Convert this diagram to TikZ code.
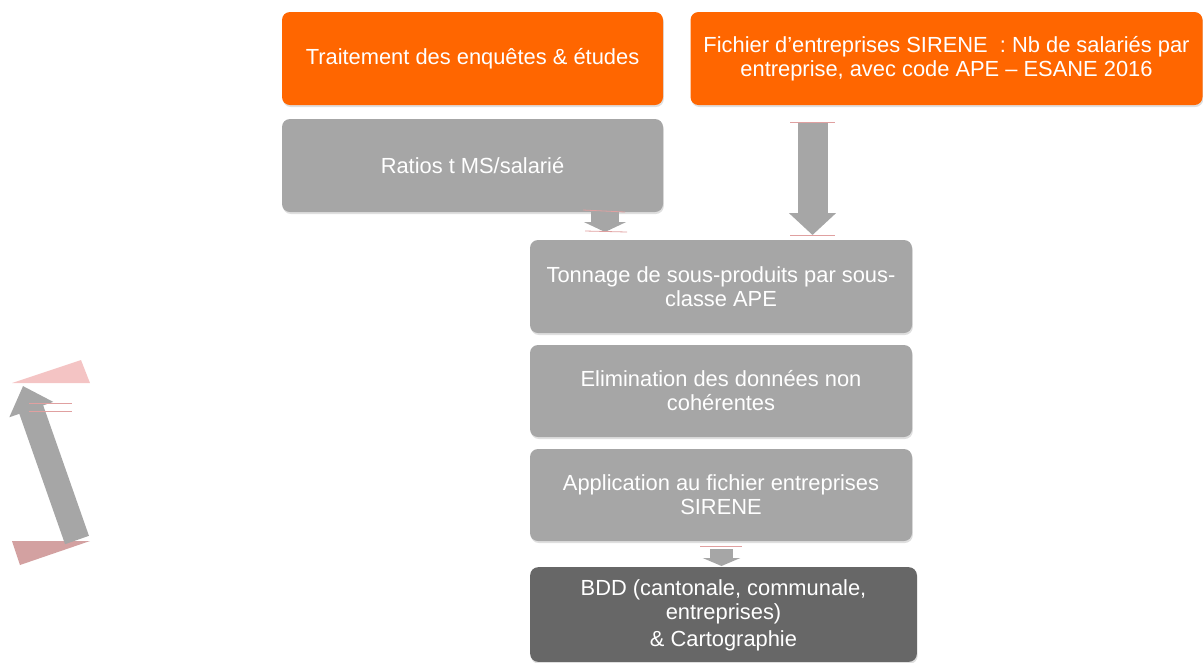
\documentclass[tikz,border=0pt]{standalone}
\usepackage{fontspec}
\setmainfont{Liberation Sans}
\usepackage{xcolor}
\usetikzlibrary{arrows.meta,shadows}
\definecolor{orangebox}{HTML}{FF6600}
\definecolor{greybox}{HTML}{A6A6A6}
\definecolor{darkbox}{HTML}{676767}
\definecolor{pinkA}{HTML}{F4C4C4}
\definecolor{pinkB}{HTML}{D3A1A1}
\definecolor{redline}{HTML}{E0A0A0}

\begin{document}
\begin{tikzpicture}[
  x=0.75pt, y=-0.75pt,
  font=\fontsize{16.4}{18}\selectfont,
  box/.style={draw=none, rounded corners=6pt, align=center, fill=#1, text=white,
    minimum width=285.75pt, minimum height=69.75pt, inner sep=2pt,
    drop shadow={shadow xshift=0.6pt, shadow yshift=-1.5pt, opacity=0.25}},
  box/.default=greybox,
  blockarrow/.style n args={3}{draw=greybox, line width=#1,
    -{Triangle[length=#2, width=#3]}},
  mark line/.style={draw=redline, line width=0.6pt}]
\useasboundingbox (0,0) rectangle (1203,662);

\node[box=orangebox] (trait) at (472.5,58.5) {Traitement des enquêtes \& études};
\node[box=orangebox, minimum width=384pt] (sirene) at (946.5,58.5)
  {Fichier d’entreprises SIRENE~ : Nb de salariés par\\entreprise, avec code APE – ESANE 2016};
\node[box] (ratios) at (472.5,165.5) {Ratios t MS/salarié};
\node[box, minimum width=286.5pt] (tonnage) at (721,286.5) {Tonnage de sous-produits par sous-\\classe APE};
\node[box, minimum width=286.5pt, minimum height=69pt] (elim) at (721,391) {Elimination des données non\\cohérentes};
\node[box, minimum width=286.5pt, minimum height=69pt] (appli) at (721,495) {Application au fichier entreprises\\SIRENE};
\node[box=darkbox, minimum width=290pt, minimum height=71pt, text depth=2pt] (bdd) at (723.5,614.5)
  {BDD (cantonale, communale,\\entreprises)\\[2.5pt]\& Cartographie};

\coordinate (r1) at (605,212);
\coordinate (r2) at (605,232);
\coordinate (s1) at (812.5,122);
\coordinate (s2) at (812.5,235);
\coordinate (a1) at (721.5,549);
\coordinate (a2) at (721.5,566);
\draw[blockarrow={21pt}{7.5pt}{31.5pt}] (r1) -- (r2);
\draw[blockarrow={22.5pt}{16.5pt}{34.5pt}] (s1) -- (s2);
\draw[blockarrow={17pt}{6pt}{28pt}] (a1) -- (a2);
\draw[mark line] (583,210) -- (625,212);
\draw[mark line] (585,231) -- (627,232);
\draw[mark line] (790,122) -- (835,122);
\draw[mark line] (790,235) -- (835,235);
\draw[mark line] (700,546) -- (742,546);

\fill[pinkA] (12,383) -- (90,383) -- (81,360) -- cycle;
\fill[pinkB] (12,541) -- (90,541) -- (20,565) -- cycle;
\coordinate (l1) at (77,540);
\coordinate (l2) at (23,386);
\draw[blockarrow={19pt}{18.75pt}{33.75pt}] (l1) -- (l2);
\draw[mark line] (29,403) -- (72,403);
\draw[mark line] (29,411) -- (72,411);
\end{tikzpicture}
\end{document}
